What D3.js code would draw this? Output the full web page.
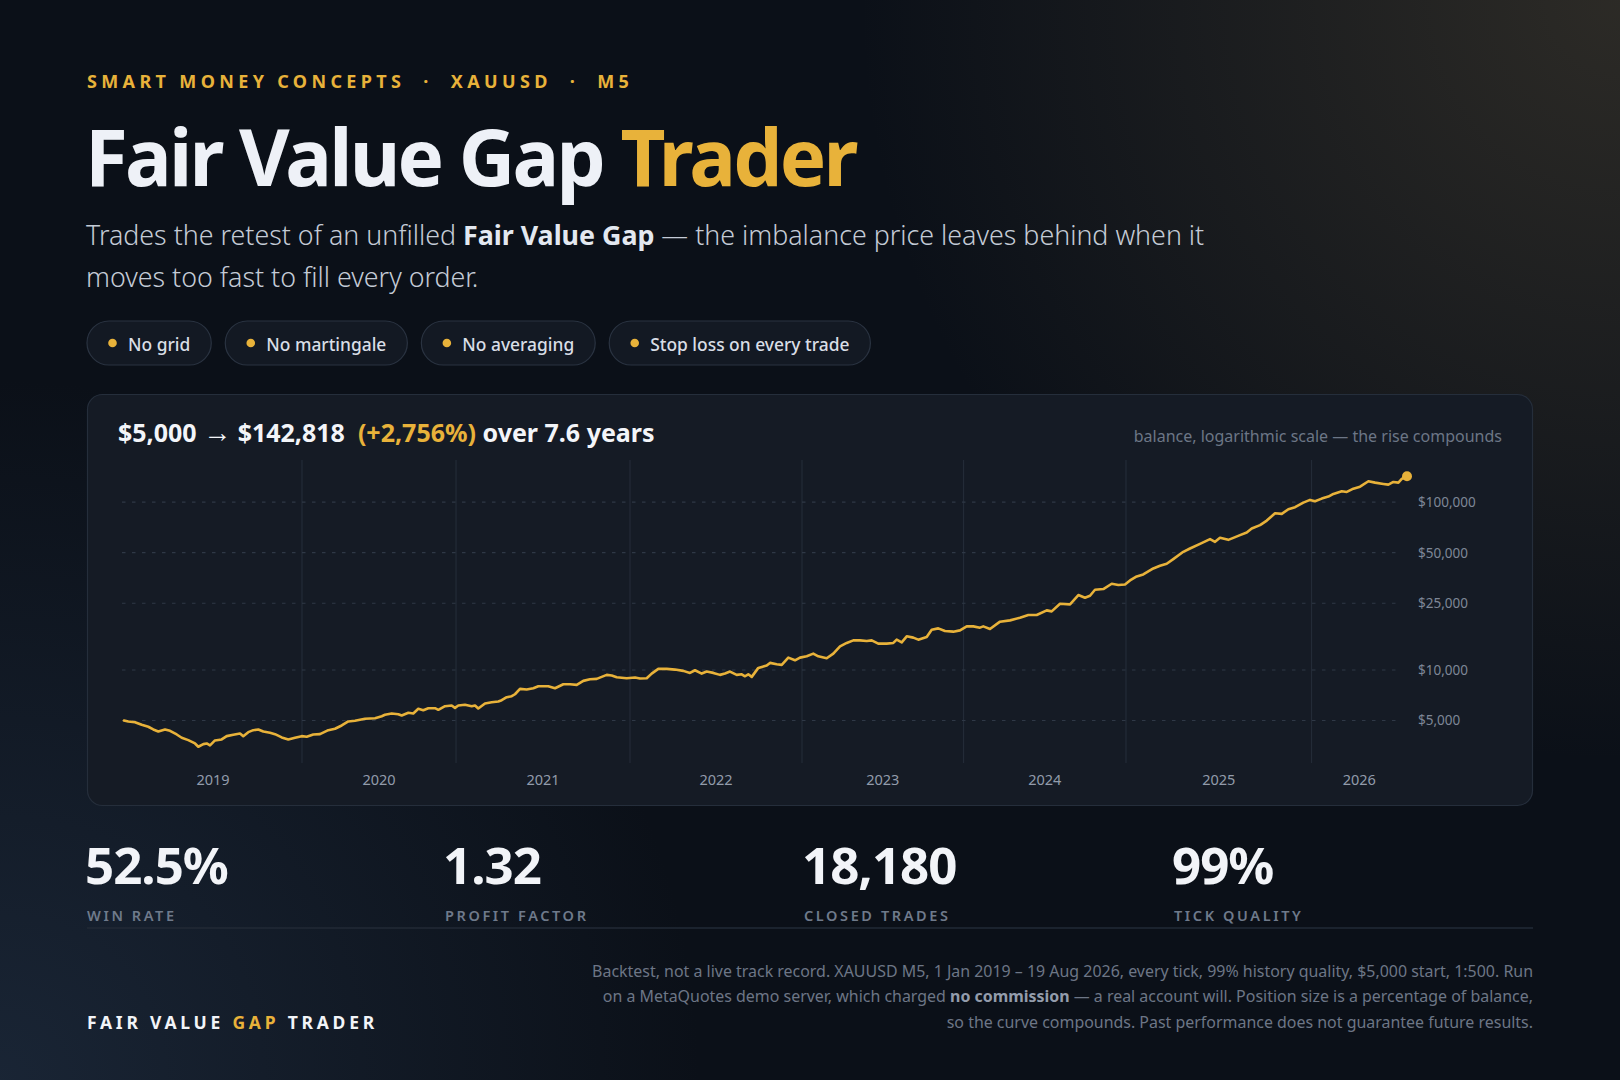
<!DOCTYPE html>
<html><head><meta charset="utf-8">
<script src="https://cdn.jsdelivr.net/npm/d3@7"></script>
<style>
html,body{margin:0;padding:0;background:#0b1018;}
svg{display:block;font-family:"Noto Sans","Open Sans",sans-serif;}
</style></head><body>
<svg id="c" width="1620" height="1080"></svg>
<script>
// ---- data ----
const trades = [0,61,156,251,344,415,486,581,652,747,818,911,1006,1053,1124,1172,1219,1289,1384,1455,1549,1644,1690,1761,1832,1903,1974,2069,2140,2235,2328,2423,2518,2589,2682,2777,2895,2990,3085,3178,3273,3415,3557,3652,3698,3793,3887,3935,4029,4099,4170,4241,4312,4407,4454,4549,4643,4690,4737,4832,4927,4974,5020,5115,5210,5304,5352,5423,5494,5540,5611,5706,5800,5871,5966,
6012,6107,6225,6320,6415,6508,6603,6698,6769,6840,6911,6982,7123,7241,7312,7407,7477,7571,7690,7808,7925,8020,8091,8186,8257,8351,8445,8516,8587,8682,8753,8800,8846,8895,8988,9107,9154,9249,9320,9413,9508,9579,9674,9767,9838,9957,10051,10146,10241,10334,10429,10524,10595,10688,10807,10901,10949,11020,11091,11184,11255,11374,11445,11538,11633,11751,11846,11941,12034,12129,
12176,12271,12413,12555,12696,12814,12933,13075,13145,13263,13405,13523,13617,13688,13759,13877,13996,14090,14184,14255,14350,14443,14585,14680,14775,14868,15010,15105,15247,15389,15460,15530,15648,15719,15814,15909,15980,16098,16193,16310,16405,16499,16594,16711,16806,16877,16972,17066,17137,17256,17327,17420,17515,17633,17728,17845,17916,17987,18058,18106,18180];
const balance = [5000,4932,4885,4714,4587,4420,4300,4420,4342,4127,3945,3817,3648,3487,3614,3648,3550,3802,3854,4033,4110,4184,4033,4260,4378,4420,4300,4225,4144,3961,3854,3945,4033,4000,4127,4144,4378,4462,4669,4932,4980,5118,5160,5303,5406,5503,5451,5354,5556,5503,5869,5758,5918,5918,5789,6082,6141,5950,6141,6200,6082,6141,5893,6311,6424,6486,6603,6880,6975,7168,7720,7646,7783,7999,7999,
7999,7783,8222,8222,8154,8613,8804,8853,9098,9351,9262,9049,8925,9011,8889,8925,9519,10153,10153,10055,9878,9610,9960,9519,9784,9610,9351,9519,9784,9351,9428,9174,9428,9098,10293,10622,11022,10813,10724,11852,11421,11852,12064,12519,12064,11739,12519,13836,14496,15022,15022,14899,15022,14357,14357,14496,15166,14615,15867,15587,15166,15738,17393,17705,17085,16922,17226,18197,18197,17876,
18197,17561,19408,19757,20499,21275,21275,22656,22349,24834,24597,27978,26962,27711,30086,30376,32664,32088,32352,34175,36099,37099,40277,41792,42953,45811,50628,52970,56494,60251,58065,61335,59676,61335,63650,65955,69670,72995,77740,86035,85215,90885,93410,99485,103235,101415,105085,108005,112075,116305,115190,120515,123860,133375,130840,128530,127305,132100,130840,137645,142818];
const yearLabels = ["2019","2020","2021","2022","2023","2024","2025","2026"];
const yearStartTrade = [0,2522,4705,7170,9607,11896,14198,16827];
const totalTrades = 18180;
const yTickValues = [5000,10000,25000,50000,100000];
const yTickLabels = ["$5,000","$10,000","$25,000","$50,000","$100,000"];
const pillLabels = ["No grid","No martingale","No averaging","Stop loss on every trade"];
const statValues = ["52.5%","1.32","18,180","99%"];
const statLabels = ["WIN RATE","PROFIT FACTOR","CLOSED TRADES","TICK QUALITY"];
const disclaimer = [
  [["Backtest, not a live track record. XAUUSD M5, 1 Jan 2019 \u2013 19 Aug 2026, every tick, 99% history quality, $5,000 start, 1:500. Run",false]],
  [["on a MetaQuotes demo server, which charged ",false],["no commission",true],[" \u2014 a real account will. Position size is a percentage of balance,",false]],
  [["so the curve compounds. Past performance does not guarantee future results.",false]]
];

const GOLD = "#e8b23a";
const svg = d3.select("#c");
const defs = svg.append("defs");
const g1 = defs.append("radialGradient").attr("id","glowTR").attr("cx",1620).attr("cy",0).attr("r",760).attr("gradientUnits","userSpaceOnUse");
g1.append("stop").attr("offset","0").attr("stop-color","#5a4f3a").attr("stop-opacity",0.42);
g1.append("stop").attr("offset","1").attr("stop-color","#5a4f3a").attr("stop-opacity",0);
const g2 = defs.append("radialGradient").attr("id","glowBL").attr("cx",0).attr("cy",1080).attr("r",700).attr("gradientUnits","userSpaceOnUse");
g2.append("stop").attr("offset","0").attr("stop-color","#1d2a3c").attr("stop-opacity",0.8);
g2.append("stop").attr("offset","1").attr("stop-color","#1d2a3c").attr("stop-opacity",0);

svg.append("rect").attr("width",1620).attr("height",1080).attr("fill","#0b1018");
svg.append("rect").attr("width",1620).attr("height",1080).attr("fill","url(#glowBL)");
svg.append("rect").attr("width",1620).attr("height",1080).attr("fill","url(#glowTR)");

// eyebrow
svg.append("text").attr("x",87).attr("y",88).attr("fill",GOLD)
  .attr("font-size",18).attr("font-weight",700).attr("letter-spacing",4.35)
  .text("SMART MONEY CONCEPTS \u00a0\u00b7\u00a0 XAUUSD \u00a0\u00b7\u00a0 M5");

// title
const title = svg.append("text").attr("x",85).attr("y",186).attr("font-size",78).attr("font-weight",700).attr("letter-spacing",-2.8);
title.append("tspan").attr("fill","#eef1f7").text("Fair Value Gap ");
title.append("tspan").attr("fill",GOLD).text("Trader");

// subtitle
const SUBF = 26.8;
const sub1 = svg.append("text").attr("x",86).attr("y",245).attr("font-size",SUBF).attr("font-weight",300).attr("fill","#c4cbd6");
sub1.append("tspan").text("Trades the retest of an unfilled ");
sub1.append("tspan").attr("font-weight",700).attr("fill","#e3e8f0").text("Fair Value Gap");
sub1.append("tspan").text(" \u2014 the imbalance price leaves behind when it");
svg.append("text").attr("x",86).attr("y",287).attr("font-size",SUBF).attr("font-weight",300).attr("fill","#c4cbd6")
  .text("moves too fast to fill every order.");

// pills
let px = 87;
pillLabels.forEach(lbl => {
  const g = svg.append("g");
  const rect = g.append("rect").attr("y",321).attr("height",44).attr("rx",22)
    .attr("fill","#131923").attr("stroke","#2a3341").attr("stroke-width",1.2);
  const t = g.append("text").attr("y",350.5).attr("font-size",17.4).attr("font-weight",500).attr("fill","#d9dee6").text(lbl);
  const w = t.node().getComputedTextLength();
  const pw = 41 + w + 21;
  rect.attr("x",px).attr("width",pw);
  g.append("circle").attr("cx",px+25.5).attr("cy",343).attr("r",4.3).attr("fill",GOLD);
  t.attr("x",px+41);
  px += pw + 14;
});

// card
svg.append("rect").attr("x",87.5).attr("y",394.5).attr("width",1445).attr("height",411).attr("rx",15)
  .attr("fill","#151b25").attr("stroke","#252e3b").attr("stroke-width",1.2);

const head = svg.append("text").attr("x",118).attr("y",442).attr("font-size",25).attr("font-weight",700).attr("fill","#f3f5f9");
head.append("tspan").text("$5,000 ");
head.append("tspan").attr("font-size",28).attr("font-weight",400).text("\u2192");
head.append("tspan").text(" $142,818 \u00a0");
head.append("tspan").attr("fill",GOLD).text("(+2,756%)");
head.append("tspan").text(" over 7.6 years");

svg.append("text").attr("x",1502).attr("y",442).attr("text-anchor","end").attr("font-size",16).attr("fill","#6c7686")
  .text("balance, logarithmic scale \u2014 the rise compounds");

// scales
const x = d3.scaleLinear().domain([0,totalTrades]).range([124,1407]);
const y = d3.scaleLog().domain([d3.min(balance)*0.8, d3.max(balance)*1.25]).range([763,460]);

// vertical year separators
const sepG = svg.append("g");
yearStartTrade.slice(1).forEach(t => {
  sepG.append("line").attr("x1",x(t)).attr("x2",x(t)).attr("y1",460).attr("y2",763)
    .attr("stroke","#232b37").attr("stroke-width",1.2);
});

// horizontal grid + y labels
const yAxis = d3.axisRight(y).tickValues(yTickValues).tickFormat((d,i)=>yTickLabels[i]).tickSize(0).tickPadding(0);
const ya = svg.append("g").attr("transform","translate(1418,0)").call(yAxis);
ya.select(".domain").remove();
ya.selectAll("text").attr("font-size",13.5).attr("fill","#7e8797").attr("font-family","Noto Sans, sans-serif");
yTickValues.forEach(v => {
  svg.append("line").attr("x1",122).attr("x2",1402).attr("y1",y(v)).attr("y2",y(v))
    .attr("stroke","#2f3846").attr("stroke-width",1.2).attr("stroke-dasharray","3.5,6.5");
});

// x labels centered in each year band
yearLabels.forEach((lbl,i) => {
  const a = yearStartTrade[i], b = i+1 < yearStartTrade.length ? yearStartTrade[i+1] : totalTrades;
  svg.append("text").attr("x",x((a+b)/2)).attr("y",785).attr("text-anchor","middle")
    .attr("font-size",14.5).attr("fill","#929bab").text(lbl);
});

// balance line
const pts = trades.map((t,i)=>[t,balance[i]]);
svg.append("path").datum(pts)
  .attr("d", d3.line().x(d=>x(d[0])).y(d=>y(d[1])))
  .attr("fill","none").attr("stroke",GOLD).attr("stroke-width",2.6).attr("stroke-linejoin","round").attr("stroke-linecap","round");
const last = pts[pts.length-1];
svg.append("circle").attr("cx",x(last[0])).attr("cy",y(last[1])).attr("r",5).attr("fill",GOLD);

// stats
const statX = [87,445,804,1174];
statValues.forEach((v,i) => {
  svg.append("text").attr("x",statX[i]-2).attr("y",884).attr("font-size",51).attr("font-weight",700)
    .attr("letter-spacing",-1).attr("fill","#f2f4f8").text(v);
  svg.append("text").attr("x",statX[i]).attr("y",921).attr("font-size",14.5).attr("font-weight",600)
    .attr("letter-spacing",2.6).attr("fill","#6f7a8b").text(statLabels[i]);
});
svg.append("line").attr("x1",87).attr("x2",1533).attr("y1",928).attr("y2",928).attr("stroke","#222a36").attr("stroke-width",1.5);

// footer brand
const brand = svg.append("text").attr("x",87).attr("y",1029).attr("font-size",17.5).attr("font-weight",700).attr("letter-spacing",3.75).attr("fill","#f2f4f8");
brand.append("tspan").text("FAIR VALUE ");
brand.append("tspan").attr("fill",GOLD).text("GAP");
brand.append("tspan").text(" TRADER");

// disclaimer
const dy = [977,1002,1028];
disclaimer.forEach((line,i) => {
  const t = svg.append("text").attr("x",1533).attr("y",dy[i]).attr("text-anchor","end").attr("font-size",15.95).attr("fill","#6d7686");
  line.forEach(([s,b]) => {
    const sp = t.append("tspan").text(s);
    if (b) sp.attr("font-weight",700).attr("fill","#939cab");
  });
});
</script>
</body></html>
